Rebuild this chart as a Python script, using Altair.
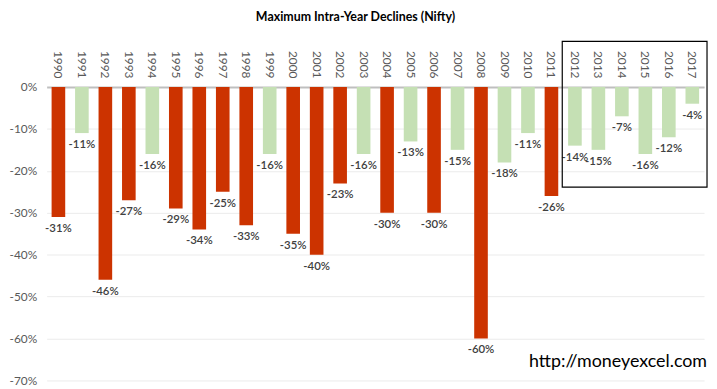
import altair as alt
import pandas as pd

years = [str(y) for y in range(1990, 2018)]
declines = [-31, -11, -46, -27, -16, -29, -34, -25, -33, -16, -35, -40, -23, -16,
            -30, -13, -30, -15, -60, -18, -11, -26, -14, -15, -7, -16, -12, -4]
y_ticks = [0, -10, -20, -30, -40, -50, -60, -70]

df = pd.DataFrame({"year": years, "decline": declines})

FONT = "Lato"
RED = "#CC3300"
GREEN = "#C5E0B4"

base = alt.Chart(df)

bars = base.mark_bar().encode(
    x=alt.X("year:N", sort=years,
            scale=alt.Scale(paddingInner=0.42, paddingOuter=0.21),
            axis=alt.Axis(orient="top", title=None, labelAngle=90, labelAlign="right",
                          labelBaseline="middle", labelPadding=9, ticks=False,
                          domainColor="#BFBFBF", domainWidth=2, labelColor="#595959",
                          labelFontSize=12, labelFont=FONT)),
    y=alt.Y("decline:Q", scale=alt.Scale(domain=[-70, 0], nice=False),
            axis=alt.Axis(title=None, values=y_ticks, labelExpr="datum.value + '%'",
                          domain=False, ticks=False, labelPadding=10,
                          gridColor="#EBEBEB", labelColor="#595959",
                          labelFontSize=12, labelFont=FONT)),
    color=alt.condition(alt.datum.decline <= -20, alt.value(RED), alt.value(GREEN)),
)

labels = base.transform_calculate(label="datum.decline + '%'").mark_text(
    baseline="top", dy=6, fontSize=11.5, font=FONT, color="#404040", fontWeight=600
).encode(
    x=alt.X("year:N", sort=years),
    y=alt.Y("decline:Q"),
    text="label:N",
)

box = base.transform_filter(alt.datum.year == "2012").mark_rect(
    fill=None, stroke="black", strokeWidth=1.2, clip=False
).encode(
    x=alt.value(520), x2=alt.value(666), y=alt.value(-46), y2=alt.value(101)
)

watermark = base.transform_filter(alt.datum.year == "2017").mark_text(
    text="http://moneyexcel.com", align="right", baseline="middle",
    fontSize=18, font=FONT, color="black"
).encode(x=alt.value(666), y=alt.value(277))

chart = alt.layer(bars, labels, box, watermark).properties(
    width=663, height=296,
    title=alt.TitleParams("Maximum Intra-Year Declines (Nifty)", font=FONT, fontSize=12.5,
                          fontWeight="bold", color="black", offset=17, dx=-20),
    autosize=alt.AutoSizeParams(type="none"),
    padding={"left": 39, "top": 78, "right": 5, "bottom": 6},
).configure_view(stroke=None)

chart.save("out.html", embed_options={"renderer": "svg", "actions": False})
